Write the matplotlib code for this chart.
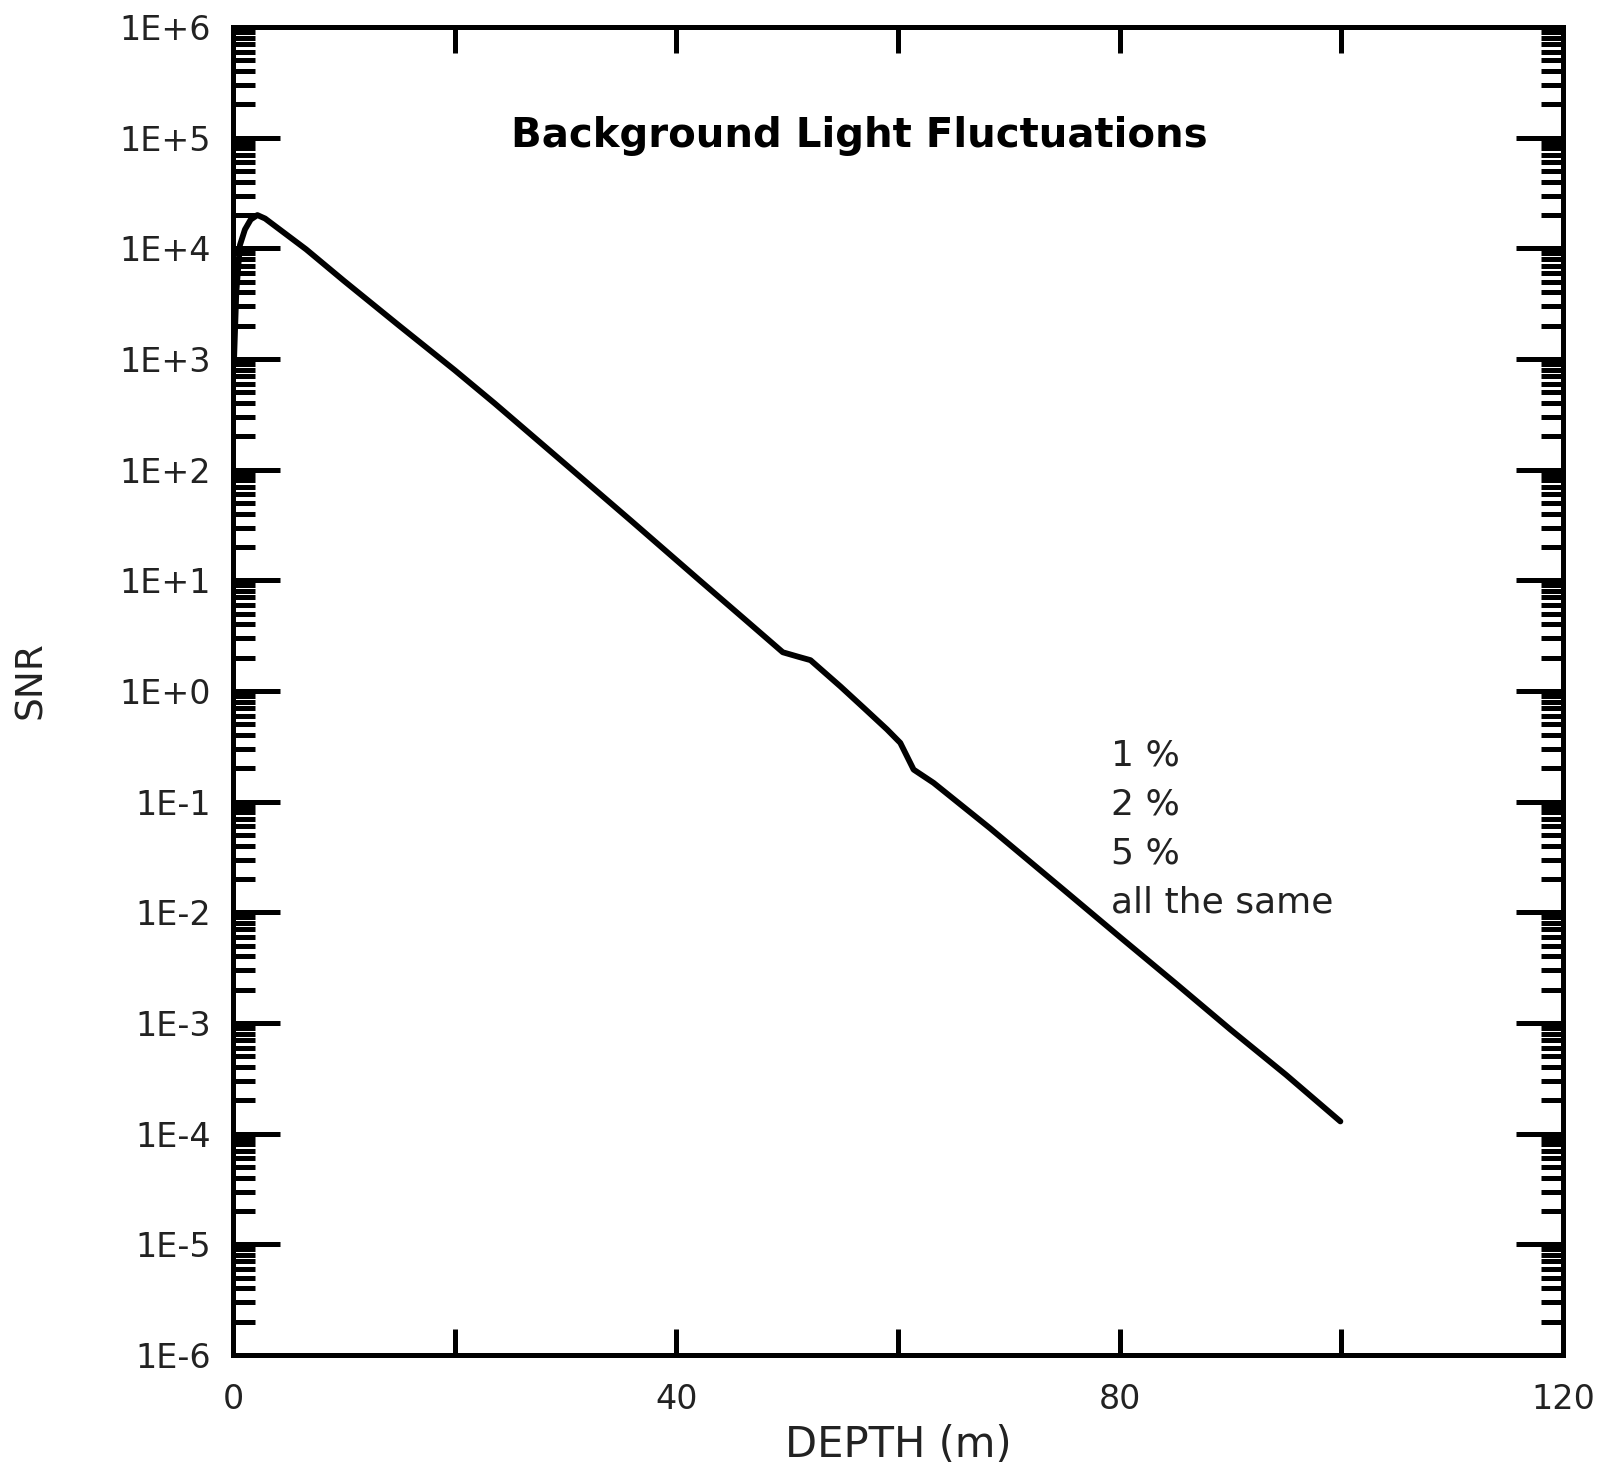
import math
import matplotlib
matplotlib.use("Agg")
import matplotlib.pyplot as plt
from matplotlib.ticker import FixedLocator, LogLocator, NullFormatter, FuncFormatter

# values
depth = [0.1, 0.3, 0.63, 1.08, 1.6, 2.2, 2.9, 4.5, 6.6, 10, 15, 20, 23.6, 30, 36,
         42.1, 46, 49.6, 51, 52.1, 54.8, 57, 59.0, 60.2, 61.4, 63.2, 68.3, 75, 80,
         85, 90, 95, 99.9]
snr = [1e3, 4e3, 1.07e4, 1.48e4, 1.82e4, 2.0e4, 1.86e4, 1.41e4, 9.8e3, 5.1e3,
       2.0e3, 794, 398, 112, 34, 10, 4.6, 2.24, 2.04, 1.9, 1.1, 0.69, 0.45, 0.34,
       0.195, 0.148, 0.0575, 0.0158, 6.0e-3, 2.3e-3, 8.7e-4, 3.4e-4, 1.29e-4]

x_ticks = [0, 20, 40, 60, 80, 100, 120]
x_labels = ['0', '', '40', '', '80', '', '120']
note_lines = ['1 %', '2 %', '5 %', 'all the same']
title = 'Background Light Fluctuations'

plt.rcParams['font.family'] = ['DejaVu Sans']

fig = plt.figure(figsize=(16, 14.69), dpi=100)
ax = fig.add_axes([0.1456, 0.0776, 0.977 - 0.1456, 0.9816 - 0.0776])

ax.plot(depth, snr, color='black', lw=4.2, solid_capstyle='round',
        solid_joinstyle='round')

ax.set_yscale('log')
ax.set_xlim(0, 120)
ax.set_ylim(1e-6, 1e6)

ax.xaxis.set_major_locator(FixedLocator(x_ticks))
ax.set_xticklabels(x_labels)
ax.yaxis.set_major_locator(LogLocator(base=10, numticks=20))
ax.yaxis.set_minor_locator(LogLocator(base=10, subs=range(2, 10), numticks=20))
ax.yaxis.set_minor_formatter(NullFormatter())


def fmt(v, pos):
    e = int(round(math.log10(v)))
    return '1E+%d' % e if e >= 0 else '1E-%d' % (-e)


ax.yaxis.set_major_formatter(FuncFormatter(fmt))

for s in ax.spines.values():
    s.set_linewidth(3.6)

ax.tick_params(axis='y', which='major', direction='in', length=34, width=3.6,
               left=True, right=True, labelsize=24, pad=16)
ax.tick_params(axis='y', which='minor', direction='in', length=16, width=3.6,
               left=True, right=True)
ax.tick_params(axis='x', which='major', direction='in', length=19, width=3.6,
               top=True, bottom=True, labelsize=24, pad=20)
for lab in ax.get_xticklabels() + ax.get_yticklabels():
    lab.set_color('#222222')

ax.set_xlabel('DEPTH (m)', fontsize=30, color='#222222', labelpad=6)
ax.set_ylabel('SNR', fontsize=27, color='#222222', va='center')
ax.yaxis.set_label_coords(-0.152, 0.508)

ax.text(56.5, 1.03e5, title, ha='center', va='center', fontsize=29,
        fontweight='bold', color='black')

note_y = [755, 804, 853, 902]
for line, py in zip(note_lines, note_y):
    # pixel row in the picture -> axes fraction
    fy = 1 - (py - 27) / (1355 - 27)
    t = ax.text(79.2, 0, line, transform=ax.get_xaxis_transform(), fontsize=26,
                ha='left', va='center', color='#222222')
    t.set_y(fy)

fig.savefig('out.png', dpi=100)
